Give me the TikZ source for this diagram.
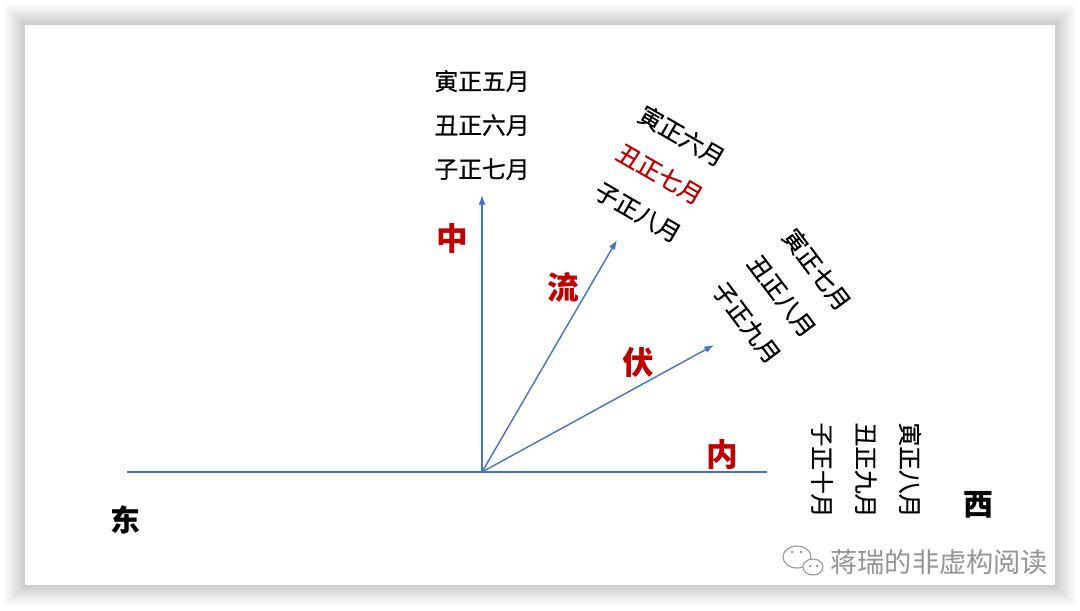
\documentclass[tikz,border=0pt]{standalone}
\usepackage{fontspec}
\newfontfamily\cjk{Noto Sans CJK SC}
\newfontfamily\cjkmonth[FakeBold=0.6]{Noto Sans CJK SC}
\usepackage{xcolor}
\definecolor{colorAxis}{RGB}{68,114,196}
\definecolor{colorTerm}{RGB}{192,0,0}
\colorlet{colorMark}{black!42}
\usetikzlibrary{arrows.meta}

\begin{document}
\begin{tikzpicture}[x=0.02cm, y=-0.02cm, >={Latex[length=5.5pt,width=4pt]},
  axis/.style={colorAxis, line width=0.8pt},
  month/.style={font=\cjkmonth\fontsize{13.5}{25}\selectfont, align=center, inner sep=0pt},
  term/.style={font=\cjk\bfseries\fontsize{18}{18}\selectfont, text=colorTerm, inner sep=0pt},
  side/.style={font=\cjk\bfseries\fontsize{17}{17}\selectfont, inner sep=0pt}]
% slide frame with soft shadow
\useasboundingbox (0,0) rectangle (1080,610);
\fill[white] (0,0) rectangle (1080,610);
\foreach \i in {1,...,10}
  \fill[black, opacity=0.02] (25-2*\i,25-2*\i) rectangle (1055+2*\i,585+2*\i);
\fill[white] (25,25) rectangle (1055,585);

% axes
\coordinate (o) at (482,472);
\coordinate (east) at (127,472);
\coordinate (west) at (767,472);
\coordinate (p90) at (482,195);
\coordinate (p60) at (617,240);
\coordinate (p30) at (714,345);
\draw[axis] (east) -- (west);
\draw[axis, ->] (o) -- (p90);
\draw[axis, ->] (o) -- (p60);
\draw[axis, ->] (o) -- (p30);

% terms
\node[term] (zhong) at (452,238) {中};
\node[term] (liu) at (563,287) {流};
\node[term] (fu) at (638,362) {伏};
\node[term] (nei) at (722,455) {内};
\node[side] (dong) at (125,520) {东};
\node[side] (xi) at (978,505) {西};

% months
\node[month] (m90) at (482,125) {寅正五月\\丑正六月\\子正七月};
\node[month, rotate=-30] (m60) at (660,174) {寅正六月\\\textcolor{colorTerm}{丑正七月}\\子正八月};
\node[month, rotate=-53] (m30) at (782,296) {寅正七月\\丑正八月\\子正九月};
\node[month, rotate=-90] (m0) at (866,470) {寅正八月\\丑正九月\\子正十月};

% watermark
\draw[colorMark, fill=white, line width=0.6pt] (797,557) ellipse (14 and 11);
\draw[colorMark, fill=white, line width=0.6pt] (813,567) ellipse (10 and 8);
\foreach \xx/\yy in {792/552, 801/552, 810/566, 817/566}
  \fill[colorMark] (\xx,\yy) circle (1.4);
\node[font=\cjk\fontsize{15.5}{15.5}\selectfont, text=colorMark, anchor=west, inner sep=0pt] (mark) at (830,562) {蒋瑞的非虚构阅读};
\end{tikzpicture}
\end{document}
